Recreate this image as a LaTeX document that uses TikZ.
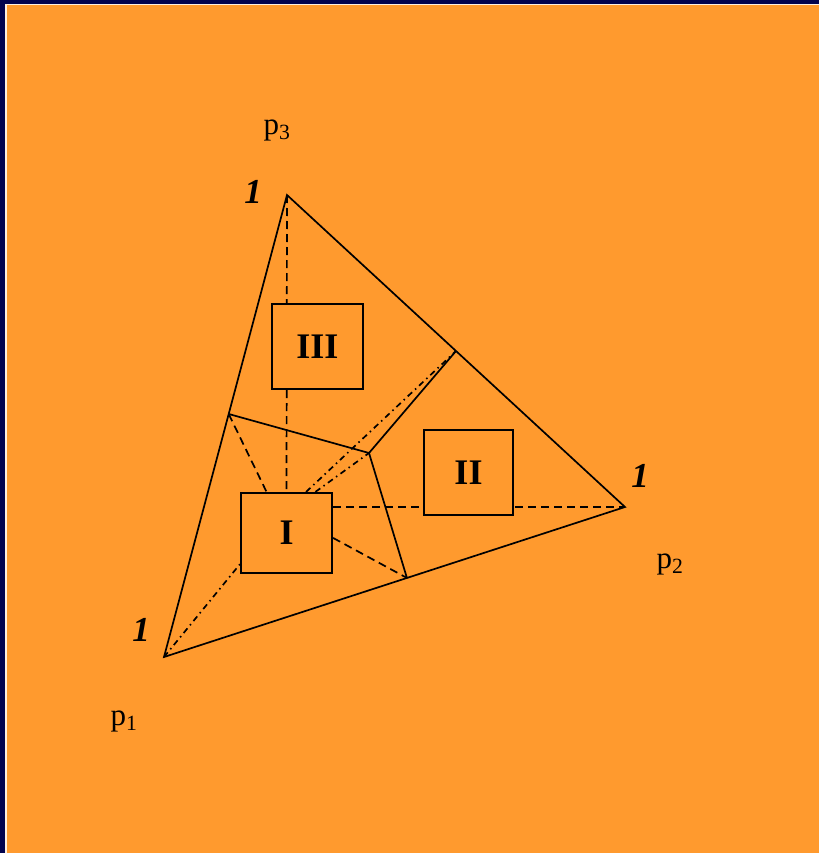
\documentclass[tikz,border=0pt]{standalone}
\usepackage{fontspec}
\setmainfont{Liberation Serif}
\usetikzlibrary{calc}
\definecolor{navybg}{RGB}{3,3,78}
\definecolor{orangebg}{RGB}{255,154,46}
\tikzset{
  region/.style={draw=black, line width=2.2pt, fill=orangebg, minimum width=#1, inner sep=0pt,
    font=\fontsize{36}{36}\selectfont\bfseries},
  edge/.style={line width=1.7pt},
  dashedge/.style={line width=1.7pt, dash pattern=on 8pt off 5pt},
  dashdotedge/.style={line width=1.7pt, dash pattern=on 6pt off 4pt on 1.5pt off 4pt},
  weight/.style={font=\fontsize{35}{35}\selectfont\bfseries\itshape},
  vlabel/.style={font=\fontsize{31}{31}\selectfont}
}
\begin{document}
\begin{tikzpicture}[x=1pt,y=-1pt]
\useasboundingbox (0,0) rectangle (819,853);
\fill[navybg] (0,0) rectangle (819,853);
\fill[white!85!orangebg] (5,4) rectangle (819,853);
\fill[orangebg] (6.5,5.5) rectangle (819,853);

% vertices
\coordinate (p1) at (164,657);
\coordinate (p2) at (625,507);
\coordinate (p3) at (287,195);
\coordinate (m12) at ($(p1)!0.527!(p2)$);
\coordinate (m13) at ($(p1)!0.526!(p3)$);
\coordinate (m23) at ($(p2)!0.5!(p3)$);
\coordinate (c) at (369,453);

% box I
\node[region=91pt, minimum height=80pt] (I) at (286.5,533) {I};

% dashed connectors behind boxes II and III
\draw[dashedge] (p3) -- (I.north);
\draw[dashedge] (I.east |- p2) -- (p2);
\draw[dashedge] (m13) -- (I);
\draw[dashedge] ($(I.north east)!0.56!(I.south east)$) -- (m12);
\draw[dashdotedge] (p1) -- ($(I.north west)!0.88!(I.south west)$);
\draw[dashdotedge] ($(I.north west)!0.71!(I.north east)$) -- (m23);
\draw[dashdotedge] ($(I.north west)!0.81!(I.north east)$) -- (c);

% solid edges
\draw[edge] (p1) -- (p2) -- (p3) -- cycle;
\draw[edge] (m13) -- (c);
\draw[edge] (c) -- (m23);
\draw[edge] (c) -- (m12);

% region boxes
\node[region=89pt, minimum height=85pt] (II) at (468.5,472.5) {II};
\node[region=91pt, minimum height=85pt] (III) at (317.5,346.5) {III};

% weights
\node[weight] (w3) at (253,192) {1};
\node[weight] (w2) at (640,476) {1};
\node[weight] (w1) at (141,630) {1};

% vertex labels
\node[vlabel] (l3) at (277,130) {p\textsubscript{3}};
\node[vlabel] (l2) at (670,564) {p\textsubscript{2}};
\node[vlabel] (l1) at (124,721) {p\textsubscript{1}};
\end{tikzpicture}
\end{document}
